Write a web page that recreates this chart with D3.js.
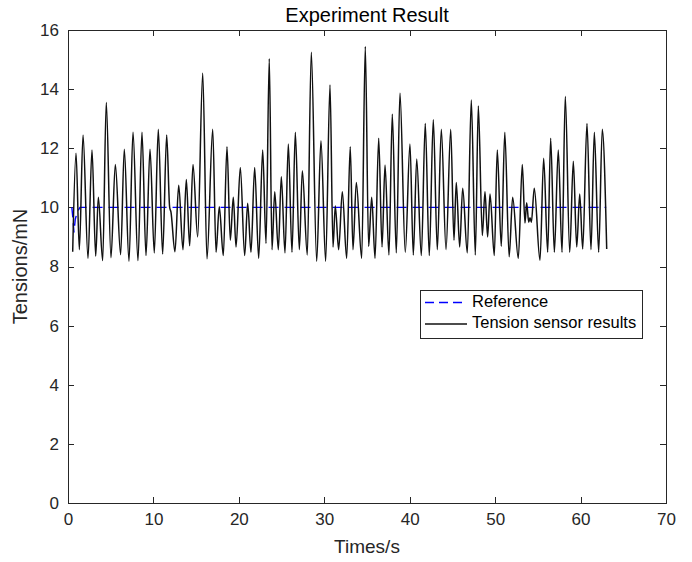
<!DOCTYPE html>
<html>
<head>
<meta charset="utf-8">
<script src="https://d3js.org/d3.v7.min.js"></script>
<style>
  body { margin: 0; background: #fff; }
  svg { font-family: "Liberation Sans", Arial, Helvetica, sans-serif; }
  .axis path, .axis line { stroke: #262626; stroke-width: 1; shape-rendering: crispEdges; }
  .axis text { fill: #262626; font-size: 17px; }
</style>
</head>
<body>
<svg id="chart" width="692" height="562"></svg>
<script>
// tension sensor signal (seconds, mN), peaks and troughs in order
const tensionTime = [
  0.55, 0.94, 1.33, 1.76, 2.34, 2.81, 3.24, 3.55, 4.06, 4.48, 5.03, 5.54, 6.16, 6.59, 7.14, 7.61,
  8.19, 8.66, 9.13, 9.60, 10.10, 10.57, 11.08, 11.55, 11.90, 12.05, 12.52, 12.96, 13.46, 13.85,
  14.24, 14.63, 15.18, 15.77, 16.27, 16.94, 17.33, 17.71, 18.18, 18.61, 19.00, 19.35, 19.67,
  20.17, 20.68, 21.03, 21.42, 21.85, 22.32, 22.79, 23.18, 23.56, 23.88, 24.20, 24.62, 24.97,
  25.40, 25.79, 26.22, 26.61, 27.08, 27.43, 28.01, 28.48, 29.11, 29.61, 30.16, 30.67, 31.02,
  31.29, 31.68, 32.11, 32.62, 33.04, 33.36, 33.75, 34.38, 34.80, 35.19, 35.55, 35.94, 36.37,
  36.76, 37.11, 37.57, 37.96, 38.43, 38.86, 39.48, 40.03, 40.42, 40.82, 41.36, 41.82, 42.29,
  42.76, 43.23, 43.70, 44.25, 44.80, 45.18, 45.45, 45.85, 46.20, 46.74, 47.21, 47.68, 48.03,
  48.50, 48.81, 49.12, 49.40, 49.90, 50.25, 50.72, 51.13, 51.64, 52.05, 52.71, 53.18, 53.49,
  53.69, 53.93, 54.08, 54.24, 54.58, 55.25, 55.68, 56.15, 56.50, 56.93, 57.39, 57.83, 58.21,
  58.73, 59.15, 59.55, 59.90, 60.25, 60.75, 61.22, 61.61, 62.12, 62.54, 63.06
];
const tensionValue = [
  8.50, 11.83, 8.57, 12.45, 8.28, 11.94, 8.35, 10.34, 8.20, 13.55, 8.30, 11.45, 8.40, 11.97, 8.18, 12.54,
  8.20, 12.54, 8.37, 11.97, 8.46, 12.64, 8.42, 12.45, 10.00, 9.85, 8.50, 10.75, 8.57, 10.94,
  8.70, 11.45, 9.00, 14.54, 8.26, 12.64, 8.48, 10.02, 8.37, 12.05, 8.89, 10.34, 8.66,
  11.35, 8.37, 10.14, 8.48, 11.35, 8.28, 11.94, 8.78, 15.03, 8.57, 10.53, 8.57, 11.04,
  8.46, 12.14, 8.48, 12.54, 8.57, 11.24, 8.39, 15.25, 8.18, 12.25, 8.18, 14.14, 8.66,
  10.05, 8.57, 10.53, 8.28, 12.05, 8.57, 10.84, 8.28, 15.44, 8.68, 10.34, 8.28, 12.34,
  8.66, 11.43, 8.39, 13.15, 8.46, 13.86, 8.48, 12.14, 8.39, 11.64, 8.37, 12.84, 8.37,
  12.96, 8.57, 12.64, 8.57, 12.64, 8.89, 10.84, 8.66, 10.65, 8.46, 13.63, 8.39, 13.43,
  9.05, 10.53, 9.00, 10.45, 8.37, 11.94, 8.68, 12.54, 8.33, 10.34, 8.28, 11.45, 9.47,
  10.16, 9.50, 9.65, 9.50, 10.65, 8.21, 11.66, 8.48, 12.34, 8.48, 11.94, 8.48, 13.75,
  8.48, 11.56, 8.66, 10.45, 8.59, 12.84, 8.57, 12.54, 8.48, 12.64, 8.59
];
// reference (set point) with its small start-up dip
const referenceTime = [0.45, 0.55, 0.70, 0.85, 1.10, 1.40, 63.0];
const referenceValue = [10.0, 9.7, 9.15, 9.6, 9.85, 10.0, 10.0];

const xTicks = [0, 10, 20, 30, 40, 50, 60, 70];
const yTicks = [0, 2, 4, 6, 8, 10, 12, 14, 16];
const seriesNames = ['Reference', 'Tension sensor results'];

const W = 692, H = 562;
const margin = { top: 30, right: 26, bottom: 59, left: 68 };
const pw = W - margin.left - margin.right;
const ph = H - margin.top - margin.bottom;

const svg = d3.select('#chart');
const g = svg.append('g').attr('transform', `translate(${margin.left},${margin.top})`);

const x = d3.scaleLinear().domain([0, 70]).range([0, pw]);
const y = d3.scaleLinear().domain([0, 16]).range([ph, 0]);

// axes, MATLAB-style box with inward ticks on all sides
g.append('g').attr('class', 'axis').attr('transform', `translate(0,${ph})`)
  .call(d3.axisBottom(x).tickValues(xTicks).tickSizeInner(-6).tickSizeOuter(0).tickPadding(10));
g.append('g').attr('class', 'axis')
  .call(d3.axisTop(x).tickValues(xTicks).tickSizeInner(-6).tickSizeOuter(0).tickFormat(''));
g.append('g').attr('class', 'axis')
  .call(d3.axisLeft(y).tickValues(yTicks).tickSizeInner(-6).tickSizeOuter(0).tickPadding(9));
g.append('g').attr('class', 'axis').attr('transform', `translate(${pw},0)`)
  .call(d3.axisRight(y).tickValues(yTicks).tickSizeInner(-6).tickSizeOuter(0).tickFormat(''));

const tension = tensionTime.map((t, i) => [t, tensionValue[i]]);
const reference = referenceTime.map((t, i) => [t, referenceValue[i]]);

const line = d3.line().x(d => x(d[0])).y(d => y(d[1]));

g.append('path').datum(reference)
  .attr('fill', 'none').attr('stroke', '#0000ff').attr('stroke-width', 1.4)
  .attr('stroke-dasharray', '10,6')
  .attr('d', line.curve(d3.curveLinear));

g.append('path').datum(tension)
  .attr('fill', 'none').attr('stroke', '#111').attr('stroke-width', 1.5)
  .attr('stroke-linejoin', 'round')
  .attr('d', line.curve(d3.curveMonotoneX));

// titles
svg.append('text').attr('x', margin.left + pw / 2).attr('y', 17)
  .attr('text-anchor', 'middle').attr('dominant-baseline', 'middle')
  .attr('font-size', 20).attr('fill', '#000').text('Experiment Result');
svg.append('text').attr('x', margin.left + pw / 2).attr('y', 548)
  .attr('text-anchor', 'middle').attr('dominant-baseline', 'middle')
  .attr('font-size', 19).attr('fill', '#262626').text('Times/s');
svg.append('text').attr('transform', `translate(22,${margin.top + ph / 2}) rotate(-90)`)
  .attr('text-anchor', 'middle').attr('dominant-baseline', 'middle')
  .attr('font-size', 20).attr('fill', '#262626').text('Tensions/mN');

// legend
const lg = svg.append('g').attr('transform', 'translate(420,290)');
lg.append('rect').attr('width', 222).attr('height', 48)
  .attr('fill', '#fff').attr('stroke', '#262626').attr('stroke-width', 1)
  .attr('shape-rendering', 'crispEdges');
seriesNames.forEach((name, i) => {
  const yy = 12.5 + i * 21.5;
  lg.append('line').attr('x1', 5).attr('x2', 47).attr('y1', yy).attr('y2', yy)
    .attr('stroke', i === 0 ? '#0000ff' : '#111').attr('stroke-width', 1.3)
    .attr('stroke-dasharray', i === 0 ? '9,5' : null);
  lg.append('text').attr('x', 52).attr('y', yy).attr('dominant-baseline', 'middle')
    .attr('font-size', 16.5).attr('fill', '#000').text(name);
});
</script>
</body>
</html>
